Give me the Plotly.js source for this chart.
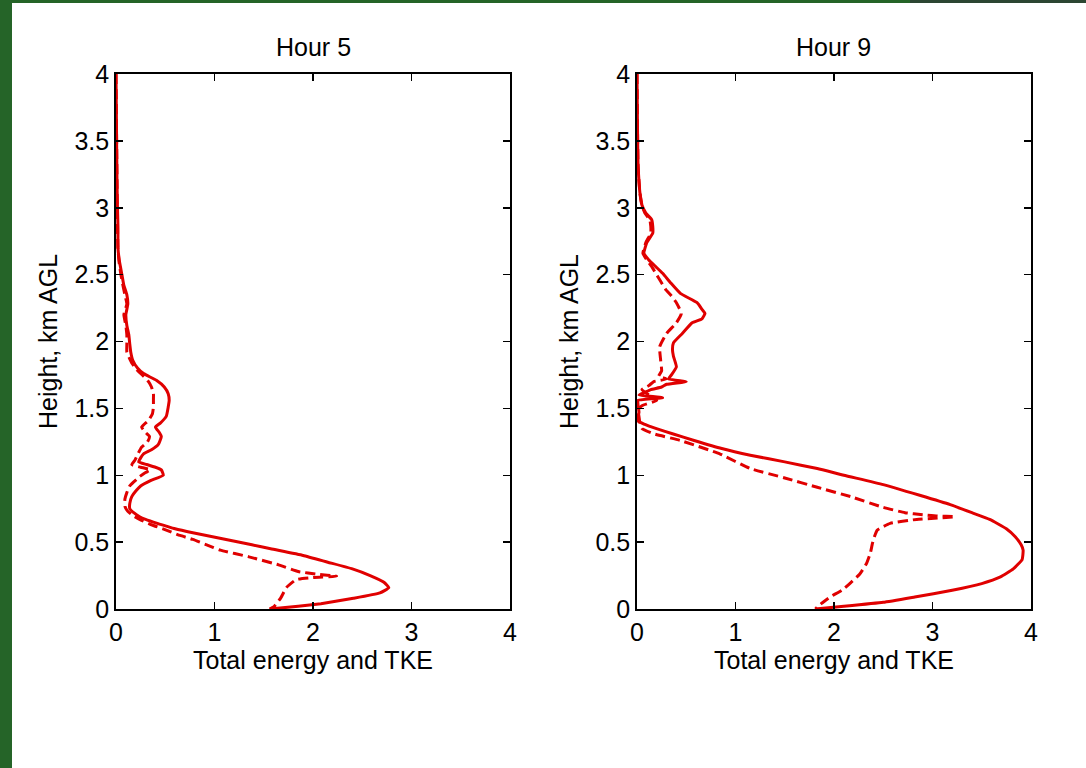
<!DOCTYPE html>
<html>
<head>
<meta charset="utf-8">
<script src="https://cdn.plot.ly/plotly-3.0.1.min.js"></script>
<style>
html,body{margin:0;padding:0;background:#fff;}
#chart{width:1086px;height:768px;}
</style>
</head>
<body>
<div id="chart"></div>
<script>
// ---- Data ----
var panelTitles = ["Hour 5", "Hour 9"];
var xTickVals = [0, 1, 2, 3, 4];
var xTickText = ["0", "1", "2", "3", "4"];
var yTickVals = [0, 0.5, 1, 1.5, 2, 2.5, 3, 3.5, 4];
var yTickText = ["0", "0.5", "1", "1.5", "2", "2.5", "3", "3.5", "4"];

// Hour 5, total energy (solid)
var h5TotalHeight = [4.0, 3.6, 3.2, 3.0, 2.85, 2.7, 2.6, 2.5, 2.42, 2.35, 2.28, 2.2, 2.12, 2.05, 1.98, 1.92, 1.86, 1.8, 1.76, 1.71, 1.66, 1.61, 1.56, 1.51, 1.44, 1.39, 1.36, 1.32, 1.29, 1.23, 1.19, 1.16, 1.13, 1.10, 1.08, 1.06, 1.04, 1.0, 0.96, 0.92, 0.89, 0.84, 0.79, 0.75, 0.72, 0.69, 0.67, 0.64, 0.62, 0.60, 0.57, 0.54, 0.51, 0.48, 0.45, 0.40, 0.35, 0.30, 0.25, 0.20, 0.16, 0.12, 0.08, 0.04, 0.02, 0.0];
var h5TotalEnergy = [0.0, 0.005, 0.01, 0.015, 0.02, 0.02, 0.035, 0.06, 0.08, 0.11, 0.12, 0.1, 0.11, 0.13, 0.14, 0.15, 0.17, 0.22, 0.28, 0.41, 0.49, 0.53, 0.54, 0.53, 0.51, 0.45, 0.40, 0.44, 0.46, 0.43, 0.36, 0.28, 0.25, 0.23, 0.31, 0.40, 0.46, 0.48, 0.35, 0.25, 0.21, 0.16, 0.14, 0.14, 0.18, 0.24, 0.30, 0.42, 0.51, 0.60, 0.78, 0.98, 1.18, 1.38, 1.57, 1.9, 2.15, 2.4, 2.58, 2.72, 2.77, 2.68, 2.41, 2.08, 1.85, 1.56];

// Hour 5, TKE (dashed)
var h5TkeHeight = [4.0, 3.6, 3.2, 3.0, 2.85, 2.7, 2.6, 2.5, 2.42, 2.35, 2.28, 2.2, 2.12, 2.05, 1.98, 1.92, 1.84, 1.79, 1.74, 1.70, 1.66, 1.61, 1.56, 1.51, 1.46, 1.41, 1.36, 1.32, 1.29, 1.25, 1.21, 1.17, 1.14, 1.11, 1.08, 1.06, 1.04, 1.02, 0.99, 0.95, 0.92, 0.87, 0.82, 0.77, 0.73, 0.70, 0.67, 0.63, 0.59, 0.55, 0.52, 0.48, 0.44, 0.39, 0.33, 0.28, 0.26, 0.245, 0.235, 0.22, 0.16, 0.08, 0.015, 0.0];
var h5TkeEnergy = [0.0, 0.005, 0.01, 0.012, 0.015, 0.02, 0.03, 0.05, 0.07, 0.09, 0.11, 0.08, 0.1, 0.11, 0.11, 0.11, 0.16, 0.21, 0.28, 0.33, 0.36, 0.38, 0.38, 0.38, 0.37, 0.33, 0.26, 0.30, 0.34, 0.32, 0.26, 0.23, 0.21, 0.19, 0.16, 0.25, 0.35, 0.30, 0.24, 0.18, 0.14, 0.11, 0.09, 0.09, 0.12, 0.17, 0.24, 0.36, 0.51, 0.65, 0.78, 0.92, 1.06, 1.35, 1.65, 1.85, 2.05, 2.24, 2.0, 1.83, 1.73, 1.67, 1.6, 1.56];

// Hour 9, total energy (solid)
var h9TotalHeight = [4.0, 3.6, 3.33, 3.2, 3.11, 3.02, 2.96, 2.91, 2.86, 2.81, 2.74, 2.66, 2.61, 2.56, 2.51, 2.44, 2.36, 2.29, 2.24, 2.21, 2.17, 2.14, 2.06, 1.99, 1.94, 1.89, 1.81, 1.75, 1.72, 1.70, 1.68, 1.66, 1.64, 1.62, 1.60, 1.58, 1.56, 1.53, 1.47, 1.41, 1.38, 1.35, 1.31, 1.26, 1.20, 1.15, 1.10, 1.05, 1.0, 0.93, 0.85, 0.78, 0.72, 0.67, 0.60, 0.54, 0.48, 0.44, 0.37, 0.30, 0.24, 0.19, 0.14, 0.09, 0.05, 0.02, 0.0];
var h9TotalEnergy = [0.0, 0.005, 0.01, 0.02, 0.03, 0.05, 0.09, 0.15, 0.16, 0.16, 0.10, 0.07, 0.12, 0.19, 0.26, 0.34, 0.44, 0.61, 0.66, 0.69, 0.66, 0.56, 0.46, 0.37, 0.36, 0.37, 0.40, 0.35, 0.32, 0.50, 0.30, 0.25, 0.14, 0.08, 0.02, 0.26, 0.01, 0.01, 0.02, 0.0, 0.08, 0.19, 0.36, 0.58, 0.86, 1.15, 1.5, 1.83, 2.1, 2.5, 2.87, 3.18, 3.4, 3.58, 3.75, 3.84, 3.9, 3.92, 3.91, 3.82, 3.69, 3.5, 3.2, 2.82, 2.5, 2.1, 1.81];

// Hour 9, TKE (dashed)
var h9TkeHeight = [4.0, 3.6, 3.33, 3.2, 3.11, 3.02, 2.96, 2.91, 2.86, 2.81, 2.74, 2.66, 2.61, 2.56, 2.51, 2.45, 2.39, 2.34, 2.29, 2.21, 2.14, 2.06, 1.96, 1.86, 1.78, 1.74, 1.72, 1.70, 1.67, 1.64, 1.60, 1.56, 1.52, 1.49, 1.44, 1.39, 1.35, 1.31, 1.26, 1.16, 1.05, 0.98, 0.91, 0.84, 0.76, 0.72, 0.705, 0.695, 0.69, 0.68, 0.67, 0.64, 0.59, 0.54, 0.49, 0.42, 0.34, 0.26, 0.19, 0.14, 0.09, 0.04, 0.0];
var h9TkeEnergy = [0.0, 0.005, 0.01, 0.02, 0.03, 0.05, 0.08, 0.13, 0.14, 0.14, 0.09, 0.06, 0.10, 0.15, 0.19, 0.24, 0.29, 0.35, 0.40, 0.45, 0.40, 0.30, 0.23, 0.24, 0.25, 0.22, 0.30, 0.17, 0.12, 0.05, 0.12, 0.20, 0.05, 0.01, 0.02, 0.03, 0.05, 0.17, 0.44, 0.84, 1.15, 1.5, 1.83, 2.17, 2.5, 2.72, 2.9, 3.05, 3.23, 3.05, 2.84, 2.57, 2.44, 2.41, 2.39, 2.37, 2.33, 2.26, 2.16, 2.08, 1.96, 1.87, 1.81];

// ---- Styling ----
var red = "#e00000";
var fontFam = "Arial, 'Liberation Sans', sans-serif";

function solid(x, y, xa, ya) {
  return {x: x, y: y, xaxis: xa, yaxis: ya, type: "scatter", mode: "lines",
          line: {color: red, width: 3, shape: "spline", smoothing: 0.4}, hoverinfo: "skip", showlegend: false};
}
function dashed(x, y, xa, ya) {
  return {x: x, y: y, xaxis: xa, yaxis: ya, type: "scatter", mode: "lines",
          line: {color: red, width: 3, dash: "10px,5px", shape: "spline", smoothing: 0.4}, hoverinfo: "skip", showlegend: false};
}

var data = [
  solid(h5TotalEnergy, h5TotalHeight, "x", "y"),
  dashed(h5TkeEnergy, h5TkeHeight, "x", "y"),
  solid(h9TotalEnergy, h9TotalHeight, "x2", "y2"),
  dashed(h9TkeEnergy, h9TkeHeight, "x2", "y2")
];

function xAxis(domain, anchor) {
  return {
    domain: domain, anchor: anchor, range: [0, 4], autorange: false,
    tickmode: "array", tickvals: xTickVals, ticktext: xTickText,
    ticks: "inside", ticklen: 7, tickwidth: 1.5, tickcolor: "#000",
    showline: true, linecolor: "#000", linewidth: 1.8, mirror: "allticks",
    showgrid: false, zeroline: false, automargin: false,
    tickfont: {family: fontFam, size: 25, color: "#000"},
    title: {text: "Total energy and TKE", font: {family: fontFam, size: 25, color: "#000"}, standoff: 6}
  };
}
function yAxis(domain, anchor) {
  return {
    domain: domain, anchor: anchor, range: [0, 4], autorange: false,
    tickmode: "array", tickvals: yTickVals, ticktext: yTickText,
    ticks: "inside", ticklen: 7, tickwidth: 1.5, tickcolor: "#000",
    showline: true, linecolor: "#000", linewidth: 1.8, mirror: "allticks",
    showgrid: false, zeroline: false, automargin: false,
    tickfont: {family: fontFam, size: 25, color: "#000"},
    title: {text: "Height, km AGL", font: {family: fontFam, size: 25, color: "#000"}, standoff: 10}
  };
}

var W = 1086, H = 768;
var yDom = [1 - 609 / H, 1 - 74 / H];
var x1Dom = [116 / W, 510 / W];
var x2Dom = [637 / W, 1031 / W];

var layout = {
  width: W, height: H,
  margin: {l: 0, r: 0, t: 0, b: 0, pad: 0},
  paper_bgcolor: "#ffffff", plot_bgcolor: "#ffffff",
  showlegend: false,
  font: {family: fontFam, color: "#000"},
  xaxis: xAxis(x1Dom, "y"),
  yaxis: yAxis(yDom, "x"),
  xaxis2: xAxis(x2Dom, "y2"),
  yaxis2: yAxis(yDom, "x2"),
  annotations: [
    {text: panelTitles[0], xref: "paper", yref: "paper", x: (x1Dom[0] + x1Dom[1]) / 2, y: 1 - 47 / H,
     xanchor: "center", yanchor: "middle", showarrow: false, font: {family: fontFam, size: 25, color: "#000"}},
    {text: panelTitles[1], xref: "paper", yref: "paper", x: (x2Dom[0] + x2Dom[1]) / 2, y: 1 - 47 / H,
     xanchor: "center", yanchor: "middle", showarrow: false, font: {family: fontFam, size: 25, color: "#000"}}
  ],
  shapes: [
    {type: "rect", xref: "paper", yref: "paper", x0: 0, x1: 12 / W, y0: 0, y1: 1,
     fillcolor: "#256428", line: {width: 0}, layer: "below"},
    {type: "rect", xref: "paper", yref: "paper", x0: 0, x1: 1, y0: 1 - 3 / H, y1: 1,
     fillcolor: "#256428", line: {width: 0}, layer: "below"},
    {type: "rect", xref: "paper", yref: "paper", x0: 910 / W, x1: 1, y0: 1 - 3 / H, y1: 1,
     fillcolor: "#2c4632", line: {width: 0}, layer: "below"}
  ]
};

Plotly.newPlot("chart", data, layout, {displayModeBar: false, staticPlot: true});
</script>
</body>
</html>
